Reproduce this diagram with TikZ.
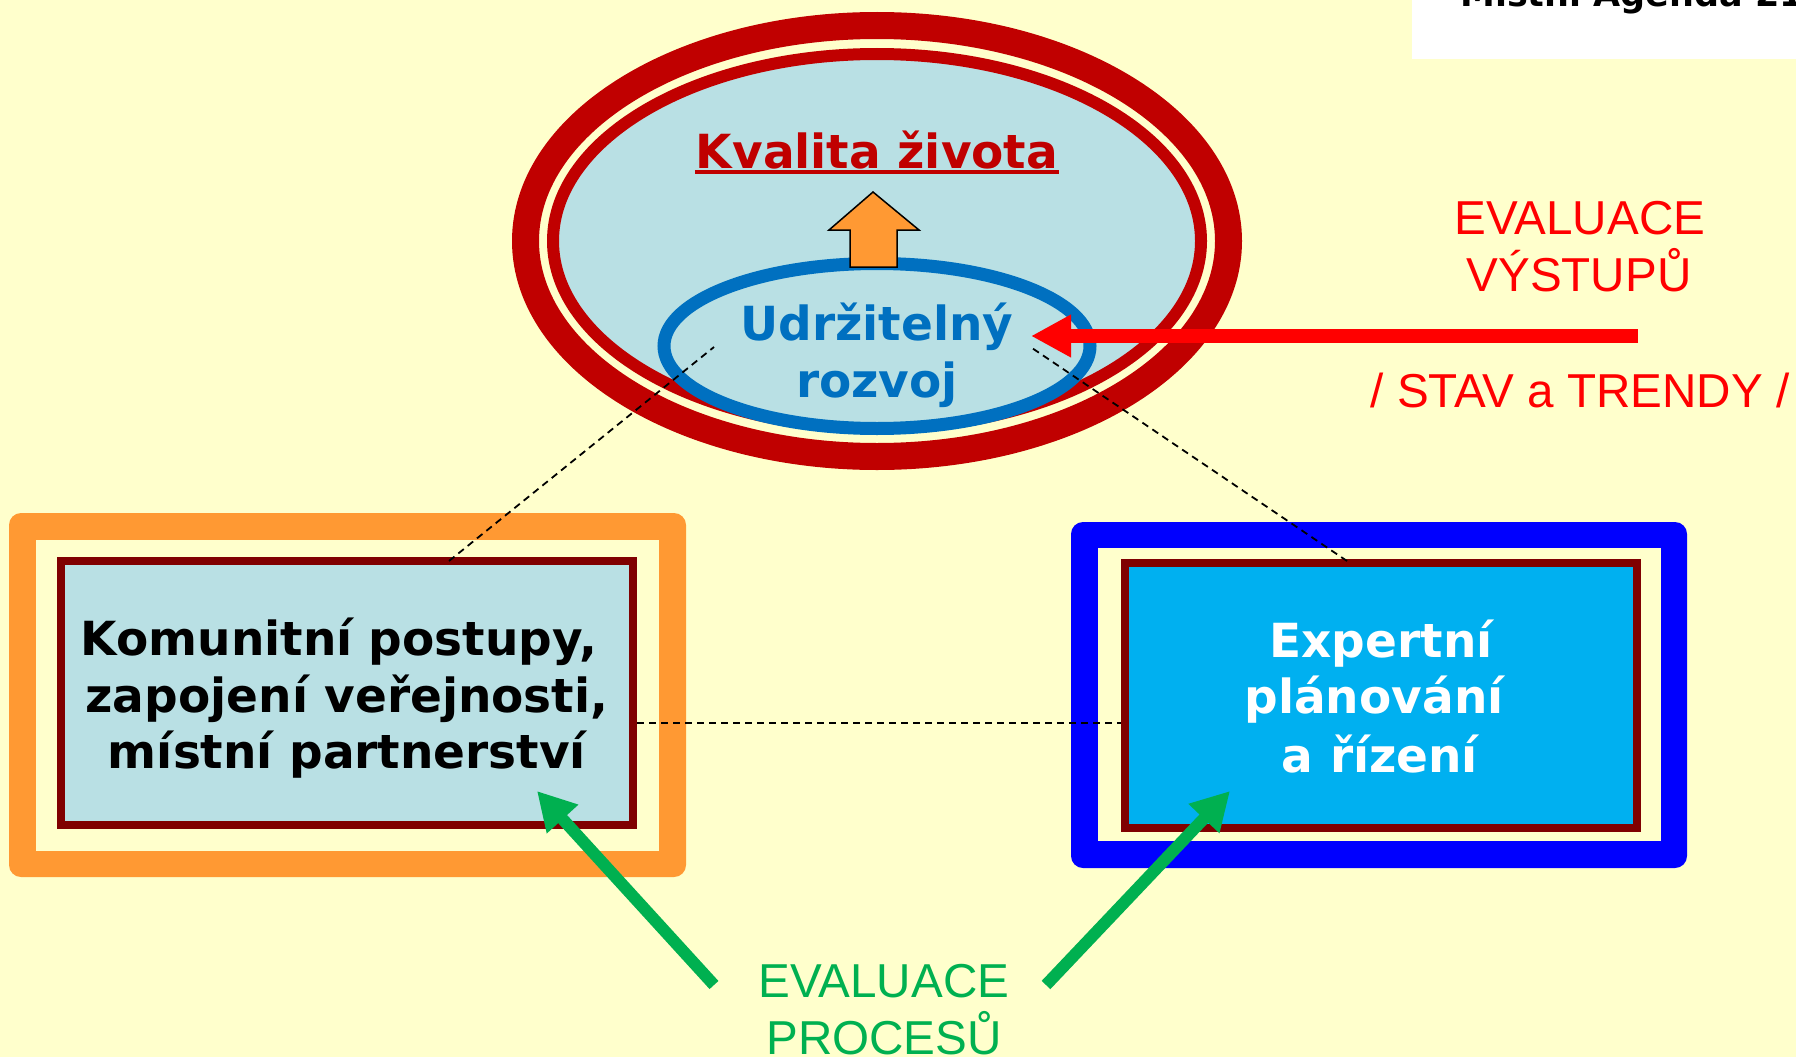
\documentclass[tikz,border=0pt]{standalone}
\usepackage{fontspec}
\setmainfont{DejaVu Sans}
\newfontfamily\vbold{DejaVu Sans Bold}
\newfontfamily\arialf{Liberation Sans}
\usetikzlibrary{arrows.meta,shapes.geometric}
\definecolor{bgc}{HTML}{FFFFCC}
\definecolor{ringred}{HTML}{C00000}
\definecolor{lblue}{HTML}{B9E0E4}
\definecolor{ringblue}{HTML}{0070C0}
\definecolor{orangec}{HTML}{FF9933}
\definecolor{dred}{HTML}{800000}
\definecolor{cyanfill}{HTML}{00B0F0}
\definecolor{bandblue}{HTML}{0000FF}
\definecolor{greenc}{HTML}{00B050}
\definecolor{redc}{HTML}{FF0000}
\begin{document}
\begin{tikzpicture}[x=1pt,y=-1pt,
  boldtxt/.style={font=\vbold\fontsize{47}{57}\selectfont, inner sep=0pt, anchor=base},
  thintxt/.style={font=\arialf\fontsize{47.6}{57}\selectfont, inner sep=0pt, anchor=base},
  dashline/.style={draw=black, line width=1.8pt, dash pattern=on 7pt off 5pt},
  innerbox/.style={draw=dred, line width=8pt, inner sep=0pt, rectangle},
  greenarrow/.style={draw=greenc, line width=12pt, -{Triangle[length=38pt,width=40pt]}},
  redarrow/.style={draw=redc, line width=14pt, -{Triangle[length=40pt,width=40pt]}}]
\useasboundingbox (0,0) rectangle (1796,1057);
\fill[bgc] (0,0) rectangle (1796,1057);
\clip (0,0) rectangle (1796,1057);

% top-right title strip
\fill[white] (1412,0) rectangle (1796,59);
\node[font=\vbold\fontsize{35}{40}\selectfont, anchor=base west, inner sep=0pt] (agenda) at (1460,7) {Místní Agenda 21};

% quality of life ellipse
\draw[ringred, line width=27pt] (877,241) ellipse [x radius=351.5pt, y radius=215.5pt];
\draw[ringred, fill=lblue, line width=12pt] (877,241) ellipse [x radius=324pt, y radius=187pt];
\node[boldtxt, text=ringred] (kv) at (877,168) {Kvalita života};
\draw[ringred, line width=4pt] ([yshift=-4pt,xshift=-1pt]kv.base west) -- ([yshift=-4pt,xshift=1pt]kv.base east);

% sustainable development ellipse
\node[ellipse, draw=ringblue, line width=13pt, fill=lblue, minimum width=426pt, minimum height=165pt, inner sep=0pt] (ur) at (877,346) {};
\node[boldtxt, text=ringblue] (ud) at (877,340) {Udržitelný};
\node[boldtxt, text=ringblue] (rz) at (877,397) {rozvoj};

% orange up arrow
\draw[fill=orangec, draw=black, line width=1.5pt, line join=miter] (873,192) -- (919,230) -- (897,230) -- (897,267) -- (850,267) -- (850,230) -- (829,230) -- cycle;

% left box
\fill[orangec, rounded corners=12pt] (9,513) rectangle (686,877);
\fill[bgc] (36,540) rectangle (659,851);
\node[innerbox, fill=lblue, minimum width=572pt, minimum height=264pt] (lbox) at (347,693) {};
\node[boldtxt] (l1) at (339,655) {Komunitní postupy,};
\node[boldtxt] (l2) at (347,712) {zapojení veřejnosti,};
\node[boldtxt] (l3) at (347,768) {místní partnerství};

% right box
\fill[bandblue, rounded corners=12pt] (1071,522) rectangle (1687,868);
\fill[bgc] (1098,548) rectangle (1661,841);
\node[innerbox, fill=cyanfill, minimum width=512pt, minimum height=265pt] (rbox) at (1381,695.5) {};
\node[boldtxt, text=white] (r1) at (1381,657) {Expertní};
\node[boldtxt, text=white] (r2) at (1374,713) {plánování};
\node[boldtxt, text=white] (r3) at (1380,772) {a řízení};

% dashed links
\coordinate (d1a) at (449,561);
\coordinate (d1b) at (714,347);
\coordinate (d2a) at (1347,561);
\coordinate (d2b) at (1032,348);
\coordinate (h1) at (637,723);
\coordinate (h2) at (1121,723);
\draw[dashline] (d1a) -- (d1b);
\draw[dashline] (d2a) -- (d2b);
\draw[dashline] (h1) -- (h2);

% output evaluation
\coordinate (rtail) at (1638,336);
\coordinate (rtip) at (1031,336);
\draw[redarrow] (rtail) -- (rtip);
\node[thintxt, text=redc] (ev1) at (1580,234) {EVALUACE};
\node[thintxt, text=redc] (ev2) at (1579,291) {VÝSTUPŮ};
\node[thintxt, text=redc] (ev3) at (1580,407) {/ STAV a TRENDY /};

% process evaluation
\coordinate (gl1) at (714,985);
\coordinate (gl2) at (537,791);
\coordinate (gr1) at (1046,985);
\coordinate (gr2) at (1230,791);
\draw[greenarrow] (gl1) -- (gl2);
\draw[greenarrow] (gr1) -- (gr2);
\node[thintxt, text=greenc] (ep1) at (884,997) {EVALUACE};
\node[thintxt, text=greenc] (ep2) at (884,1054) {PROCESŮ};
\end{tikzpicture}
\end{document}
